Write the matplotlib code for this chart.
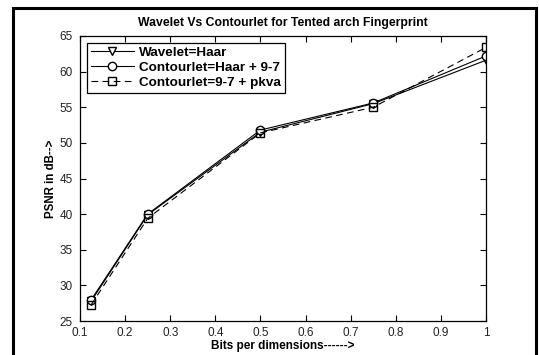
import matplotlib.pyplot as plt
from matplotlib.patches import Rectangle

# bits per dimension
bits = [0.125, 0.25, 0.5, 0.75, 1.0]

# PSNR values
wavelet_haar = [27.8, 39.9, 51.5, 55.5, 61.6]
contourlet_haar_97 = [28.0, 40.0, 51.8, 55.6, 62.2]
contourlet_97_pkva = [27.3, 39.4, 51.4, 55.0, 63.4]

labels = ["Wavelet=Haar", "Contourlet=Haar + 9-7", "Contourlet=9-7 + pkva"]

plt.rcParams['font.family'] = ['Liberation Sans', 'DejaVu Sans']

fig = plt.figure(figsize=(5.39, 3.55), dpi=100)
ax = fig.add_axes([80 / 539, 1 - 321 / 355, 406 / 539, 285 / 355])

#outer frame around the whole picture
fig.patches.append(Rectangle((13 / 539, -0.05), 523 / 539, 1.05 - 8 / 355,
                             transform=fig.transFigure, fill=False,
                             edgecolor='black', linewidth=2.2))

ax.plot(bits, wavelet_haar, 'k-', marker='v', mfc='white', ms=6, lw=0.8, label=labels[0])
ax.plot(bits, contourlet_haar_97, 'k-', marker='o', mfc='white', ms=6, lw=0.8, label=labels[1])
ax.plot(bits, contourlet_97_pkva, 'k--', marker='s', mfc='none', ms=6, lw=0.8,
        dashes=(6, 4), label=labels[2])

ax.set_xlim(0.1, 1.0)
ax.set_ylim(25, 65)
ax.set_xticks([0.1, 0.2, 0.3, 0.4, 0.5, 0.6, 0.7, 0.8, 0.9, 1.0])
ax.set_xticklabels(['0.1', '0.2', '0.3', '0.4', '0.5', '0.6', '0.7', '0.8', '0.9', '1'])
ax.set_yticks(range(25, 66, 5))
ax.tick_params(direction='in', top=True, right=True, length=4, width=0.8,
               labelsize=8.5, labelcolor='#222222')
ax.tick_params(axis='x', pad=4)
ax.tick_params(axis='y', pad=5)
for s in ax.spines.values():
    s.set_linewidth(0.9)

ax.set_title("Wavelet Vs Contourlet for Tented arch Fingerprint", fontsize=8.8,
             fontweight='bold', pad=7)
ax.set_xlabel("Bits per dimensions------>", fontsize=8.5, fontweight='bold', labelpad=1)
ax.set_ylabel("PSNR in dB-->", fontsize=8.3, fontweight='bold', labelpad=2)

leg = ax.legend(loc='upper left', prop={'weight': 'bold', 'size': 9.7},
                fancybox=False, edgecolor='black', framealpha=1,
                borderaxespad=0.5, handlelength=3.2, labelspacing=0.18,
                borderpad=0.3, handletextpad=0.4)
leg.get_frame().set_linewidth(0.9)

fig.savefig("out.png", dpi=100)
